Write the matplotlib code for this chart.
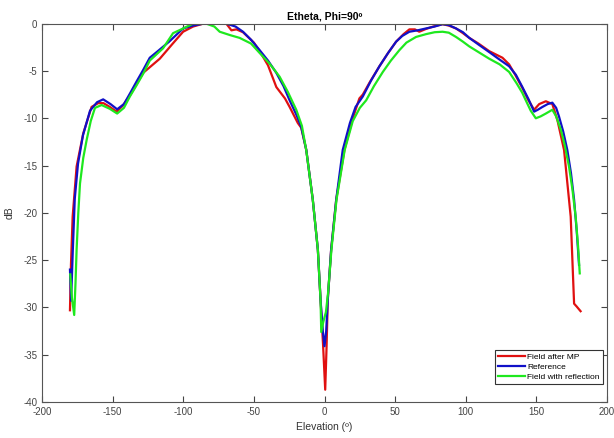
import matplotlib
matplotlib.use("Agg")
import matplotlib.pyplot as plt

plt.rcParams['font.family'] = ['Liberation Sans', 'DejaVu Sans']
plt.rcParams['axes.unicode_minus'] = False

red_x = [-180.2, -179.5, -178.3, -175.5, -170.8, -164.9, -160.2, -156.5, -152, -147.2, -143, -137.8,
         -128.4, -116.6, -108, -100.1, -93, -86, -78, -69.5, -65.9, -62.4, -57.7, -50, -45.9, -40,
         -34.1, -28, -24.7, -18.9, -16.5, -12.9, -8.3, -4.7, -2.8, -1, 0.5, 1.5, 2.3, 4.7, 8.3, 14.1,
         20, 24.7, 27.1, 32, 38.9, 45, 50.7, 56, 60.1, 64, 67.1, 71.9, 77, 83.6, 88, 93.1, 98, 102.5,
         109, 116.6, 126, 130.7, 135, 140.1, 144, 148.4, 152, 156.7, 161.3, 164.9, 169.6, 174.3,
         176.7, 178.5, 181.3]
red_y = [-30.3, -25.5, -20.4, -15.1, -11.6, -8.8, -8.4, -8.4, -8.8, -9.3, -8.7, -7.6,
         -5.2, -3.7, -2.2, -0.85, -0.3, 0, 0, 0, -0.7, -0.6, -0.9, -2.0, -2.9, -4.4,
         -6.7, -7.9, -8.8, -10.5, -11.0, -13.35, -18.6, -23.9, -29.2, -34, -38.7, -34, -29.2, -23.9, -18.6, -13.35,
         -10.0, -7.9, -7.5, -6.2, -4.5, -3.1, -1.9, -1.1, -0.6, -0.6, -0.85, -0.55, -0.3, -0.05, -0.2, -0.5, -1.0, -1.5,
         -2.1, -2.9, -3.6, -4.3, -5.4, -6.8, -8.0, -9.1, -8.5, -8.2, -8.5, -10.2, -13.35, -20.4,
         -29.6, -29.9, -30.4]

blue_x = [-180.2, -179.4, -178.2, -176.8, -174.5, -171, -166, -161, -156.7, -151.5, -146.8, -142,
          -137.8, -133, -128.4, -123.7, -118, -110, -100.1, -93, -86, -78, -69.5, -63, -57.7, -52,
          -45.9, -40, -34.1, -29, -24.7, -20, -16.5, -12.9, -8.3, -4.7, -2.8, -1.2, 0, 1.2, 2.3, 4.7,
          8.3, 12.9, 18, 22, 27.1, 33, 38.9, 45, 50.7, 55, 60.1, 66, 71.9, 78, 83.6, 88, 93.1, 98,
          102.5, 109, 116.6, 124, 130.7, 135.5, 140.1, 144.5, 148.4, 151, 154.3, 158, 161.3, 164,
          166, 169, 171.9, 174.5, 176.7, 178.6, 180.2]
blue_y = [-26, -29.3, -24, -18.5, -14.8, -11.8, -9.2, -8.3, -8.0, -8.5, -9.05, -8.5,
          -7.4, -6.1, -4.9, -3.6, -2.9, -1.9, -0.5, -0.2, 0, 0, 0, -0.3, -0.85, -1.7,
          -2.8, -3.9, -5.2, -6.6, -8.1, -9.6, -10.9, -13.35, -18.6, -23.9, -29.2, -32.5, -34.1, -32.5, -29.2, -23.9,
          -18.6, -13.35, -10.5, -8.8, -7.7, -6.0, -4.5, -3.1, -1.9, -1.3, -0.85, -0.7, -0.5, -0.3, -0.05, -0.15, -0.5, -0.9,
          -1.5, -2.2, -3.0, -3.8, -4.5, -5.4, -6.7, -8.0, -9.3, -9.1, -8.8, -8.5, -8.35, -8.9,
          -9.8, -11.4, -13.35, -15.8, -18.6, -22, -25.5]

green_x = [-180, -178.8, -177.2, -176.3, -175.5, -174.3, -173.1, -170.8, -168.4, -165.5, -162.5, -157.8,
           -152, -146.8, -142, -137.8, -133, -128.4, -123.7, -114.3, -107.2, -100, -93.1, -83.6, -78,
           -74.2, -67, -60.1, -52, -45.9, -39, -31.8, -26, -20, -16, -12.9, -8.3, -4.7, -2.8, -2.3,
           -0.8, 1.0, 2.5, 4.9, 8.5, 14.3, 20, 25, 29.5, 35, 41.3, 47, 53, 58, 64.8, 72, 78, 83.6, 88,
           93.1, 98, 102.5, 109, 116.6, 124, 130.7, 136, 140, 142.5, 146, 149.6, 153, 156.7, 161.3,
           164, 167.3, 170, 173.1, 175.5, 177.8, 179.5, 180.7]
green_y = [-26.5, -29, -30.8, -27.5, -23.9, -20, -16.9, -14.2, -12.3, -10.3, -8.9, -8.6,
           -9.0, -9.5, -8.9, -7.7, -6.5, -5.3, -3.9, -2.6, -1.0, -0.5, 0, 0, -0.3,
           -0.85, -1.2, -1.5, -2.1, -3.1, -4.2, -5.6, -7.2, -9.1, -10.8, -13.4, -18.6, -23.9, -29.2, -32.6,
           -31.5, -30.5, -28.5, -23.9, -18.6, -13.35, -10.3, -8.9, -8.1, -6.6, -5.1, -3.9, -2.8, -2.0, -1.4, -1.1, -0.9, -0.85, -0.95,
           -1.4, -1.9, -2.4, -3.0, -3.7, -4.3, -5.1, -6.3, -7.3, -8.1, -9.2, -10.0, -9.8, -9.5, -9.1,
           -9.8, -11.2, -12.8, -15.1, -17.5, -20.4, -23.5, -26.4]

series_names = ['Field after MP', 'Reference', 'Field with reflection']
x_ticks = [-200, -150, -100, -50, 0, 50, 100, 150, 200]
y_ticks = [-40, -35, -30, -25, -20, -15, -10, -5, 0]

fig = plt.figure(figsize=(6.14, 4.38), dpi=100)
ax = fig.add_axes([42/614, 1 - 402/438, (607-42)/614, (402-23.7)/438])

ax.plot(red_x, red_y, color='#e01010', lw=1.6, label=series_names[0])
ax.plot(blue_x, blue_y, color='#1010c8', lw=1.6, label=series_names[1])
ax.plot(green_x, green_y, color='#1ee81e', lw=1.6, label=series_names[2])

ax.set_xlim(-200, 200)
ax.set_ylim(-40, 0)
ax.set_xticks(x_ticks)
ax.set_yticks(y_ticks)
ax.tick_params(direction='in', top=True, right=True, labelsize=7, colors='#444444',
               length=4, width=0.8)
for s in ax.spines.values():
    s.set_color('#555555')
    s.set_linewidth(0.8)

ax.set_title('Etheta, Phi=90º', fontsize=7.5, fontweight='bold', pad=3)
ax.set_xlabel('Elevation (º)', fontsize=7.5, color='#333333', labelpad=4)
ax.set_ylabel('dB', fontsize=7.5, color='#333333', labelpad=6)

leg = ax.legend(loc='lower right', bbox_to_anchor=(0.993, 0.048), borderaxespad=0,
                fontsize=6, fancybox=False, handlelength=3.2, handletextpad=0.3,
                labelspacing=0.25, borderpad=0.4, framealpha=1)
leg.get_frame().set_edgecolor('#333333')
leg.get_frame().set_linewidth(0.8)

fig.savefig('out.png', dpi=100)
